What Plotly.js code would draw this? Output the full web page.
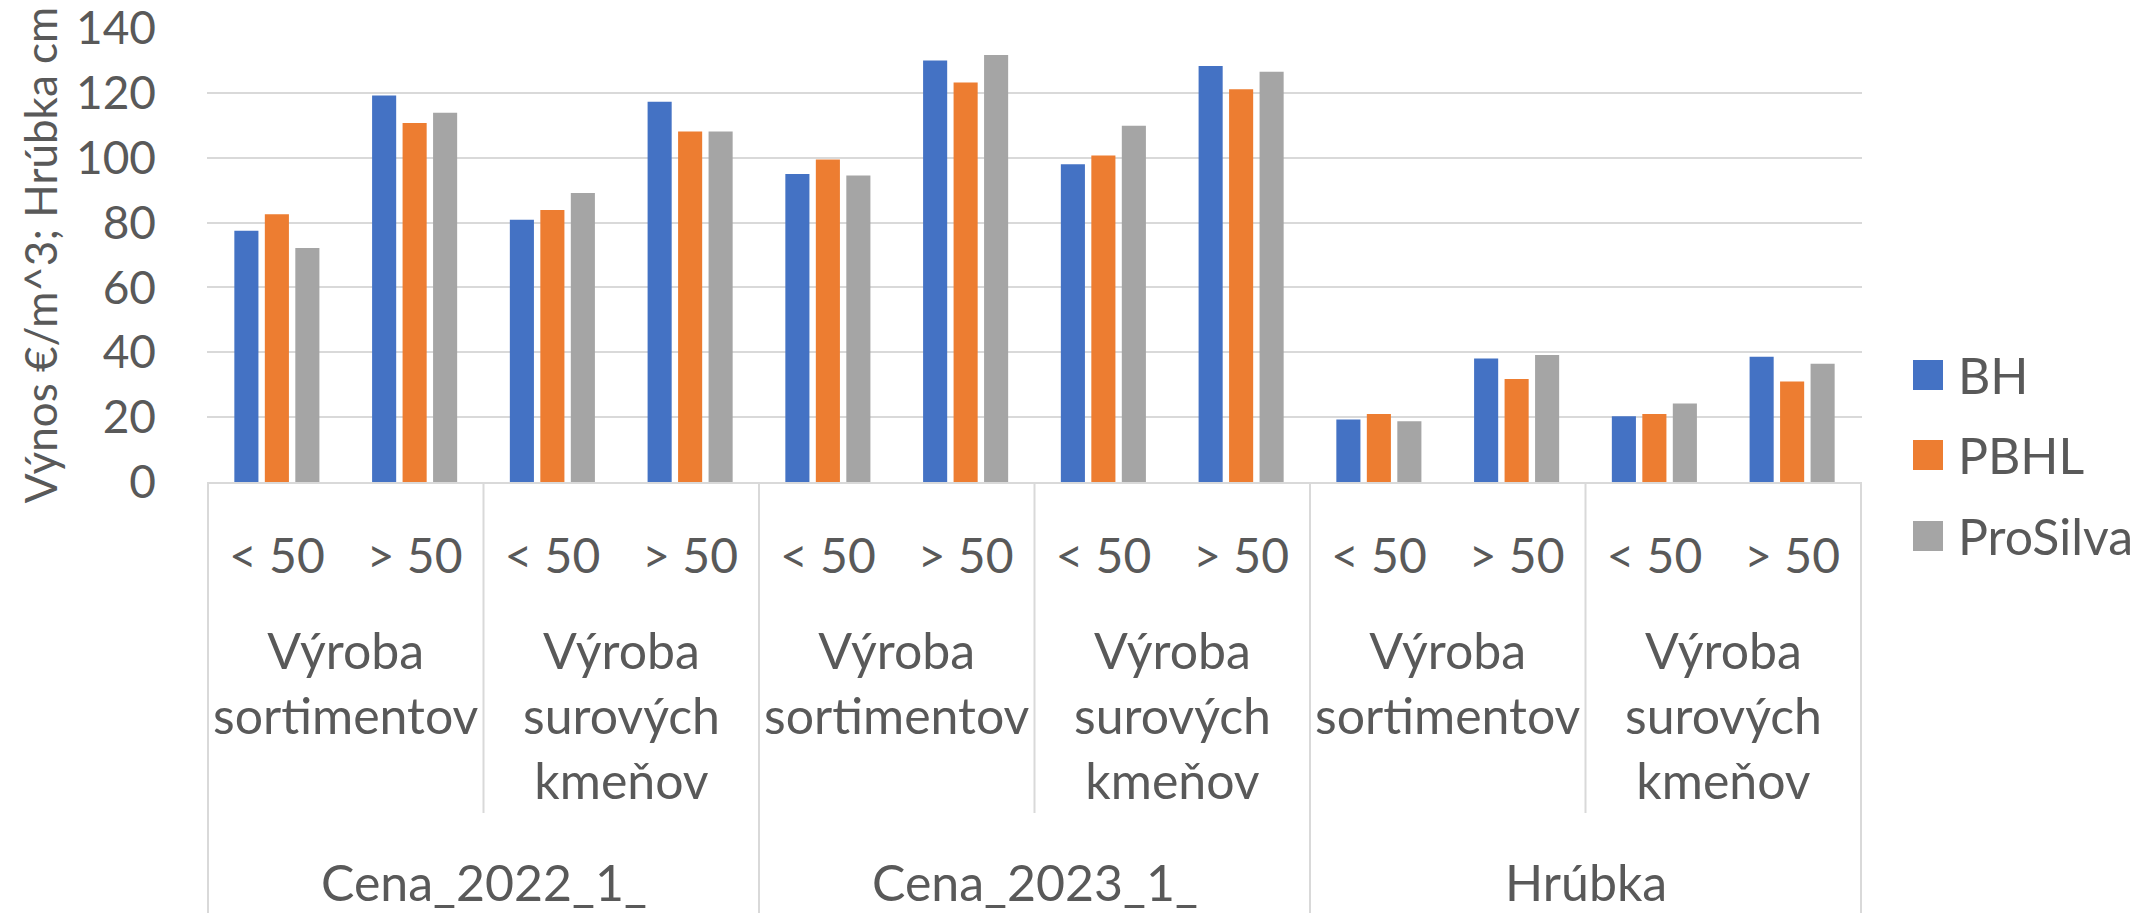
<!DOCTYPE html>
<html>
<head>
<meta charset="utf-8">
<script src="https://cdn.plot.ly/plotly-3.0.1.min.js"></script>
<style>
html,body{margin:0;padding:0;background:#fff;}
#chart{width:2150px;height:913px;}
</style>
</head>
<body>
<div id="chart"></div>
<script>
// ---- Data ----
const groups = ["Cena_2022_1_", "Cena_2023_1_", "Hrúbka"];
const subgroups = ["Výroba<br>sortimentov", "Výroba<br>surových<br>kmeňov"];
const sizes = ["< 50", "> 50"];
const seriesNames = ["BH", "PBHL", "ProSilva"];
const seriesColors = ["#4472C4", "#ED7D31", "#A5A5A5"];
const bhValues       = [77.5, 119.2, 80.9, 117.3, 95.0, 130.0, 98.0, 128.3, 19.3, 38.1, 20.3, 38.6];
const pbhlValues     = [82.6, 110.7, 83.9, 108.1, 99.5, 123.2, 100.7, 121.1, 21.0, 31.8, 21.0, 31.0];
const proSilvaValues = [72.2, 113.9, 89.1, 108.1, 94.5, 131.7, 109.9, 126.5, 18.7, 39.2, 24.2, 36.5];
const yTicks = [0, 20, 40, 60, 80, 100, 120, 140];
const yTitle = "Výnos €/m^3; Hrúbka cm";

// ---- Build categories ----
const keys = [], tickText = [];
groups.forEach(g => subgroups.forEach(s => sizes.forEach(z => {
  keys.push(g + "|" + s + "|" + z);
  tickText.push(z);
})));

const allValues = [bhValues, pbhlValues, proSilvaValues];
const textColor = "#595959";
const gridColor = "#D9D9D9";
const FONT = "Lato, 'Noto Sans', sans-serif";
const FS = 50;

const traces = seriesNames.map((n, i) => ({
  type: "bar",
  name: n,
  x: keys,
  y: allValues[i],
  marker: {color: seriesColors[i], line: {width: 0}},
  showlegend: false,
  hoverinfo: "y+name"
}));

// plot geometry (pixels)
const plotTop = 28, plotBottom = 482, plotLeft = 207, plotRight = 1862;
const pH = plotBottom - plotTop, pW = plotRight - plotLeft;
const py = Y => (plotBottom - Y) / pH;
const px = X => (X - plotLeft) / pW;

const shapes = [];
const annotations = [];
const nPerSub = sizes.length;
const nPerGroup = subgroups.length * sizes.length;

// vertical divider lines
for (let i = 0; i <= keys.length; i += nPerSub) {
  const isGroupEdge = (i % nPerGroup === 0);
  shapes.push({
    type: "line", xref: "x", yref: "paper",
    x0: i - 0.5, x1: i - 0.5,
    y0: 0, y1: py(isGroupEdge ? 913 : 813),
    line: {color: gridColor, width: 2}
  });
}

// subgroup labels
groups.forEach((g, gi) => subgroups.forEach((s, si) => {
  const center = gi * nPerGroup + si * nPerSub + (nPerSub - 1) / 2;
  annotations.push({
    xref: "x", yref: "paper", x: center, y: py(618),
    xanchor: "center", yanchor: "top", showarrow: false,
    text: s, align: "center",
    font: {family: FONT, size: FS, color: textColor}
  });
}));
// group labels
groups.forEach((g, gi) => {
  const center = gi * nPerGroup + (nPerGroup - 1) / 2;
  annotations.push({
    xref: "x", yref: "paper", x: center, y: py(882),
    xanchor: "center", yanchor: "middle", showarrow: false,
    text: g,
    font: {family: FONT, size: FS, color: textColor}
  });
});

// manual legend (square swatches)
const legendY = [375, 455, 536];
seriesNames.forEach((n, i) => {
  shapes.push({
    type: "rect", xref: "paper", yref: "paper",
    x0: px(1913), x1: px(1943),
    y0: py(legendY[i] + 15), y1: py(legendY[i] - 15),
    fillcolor: seriesColors[i], line: {width: 0}
  });
  annotations.push({
    xref: "paper", yref: "paper", x: px(1956), y: py(legendY[i]),
    xanchor: "left", yanchor: "middle", showarrow: false,
    text: n,
    font: {family: FONT, size: FS, color: textColor}
  });
});

const layout = {
  width: 2150, height: 913,
  margin: {l: plotLeft, r: 2150 - plotRight, t: plotTop, b: 913 - plotBottom, pad: 0},
  paper_bgcolor: "#fff", plot_bgcolor: "#fff",
  font: {family: FONT, size: FS, color: textColor},
  barmode: "group",
  bargap: 0.336,
  bargroupgap: 0.21,
  showlegend: false,
  xaxis: {
    type: "category",
    categoryorder: "array", categoryarray: keys,
    tickvals: keys, ticktext: tickText,
    tickfont: {family: FONT, size: 48, color: textColor},
    showgrid: false, zeroline: false,
    showline: true, linecolor: gridColor, linewidth: 2,
    ticks: "", ticklabelstandoff: 31,
    automargin: false, fixedrange: true
  },
  yaxis: {
    range: [0, 140.02], tickvals: yTicks,
    tickfont: {family: FONT, size: 46, color: textColor},
    showgrid: true, gridcolor: gridColor, gridwidth: 2,
    zeroline: false, showline: false, ticks: "",
    ticklabelstandoff: 50,
    ticklabeloverflow: "allow",
    title: {text: yTitle, font: {family: FONT, size: 44, color: textColor}, standoff: 4},
    automargin: false, fixedrange: true
  },
  shapes: shapes,
  annotations: annotations
};

Plotly.newPlot("chart", traces, layout, {displayModeBar: false, staticPlot: true});
</script>
</body>
</html>
